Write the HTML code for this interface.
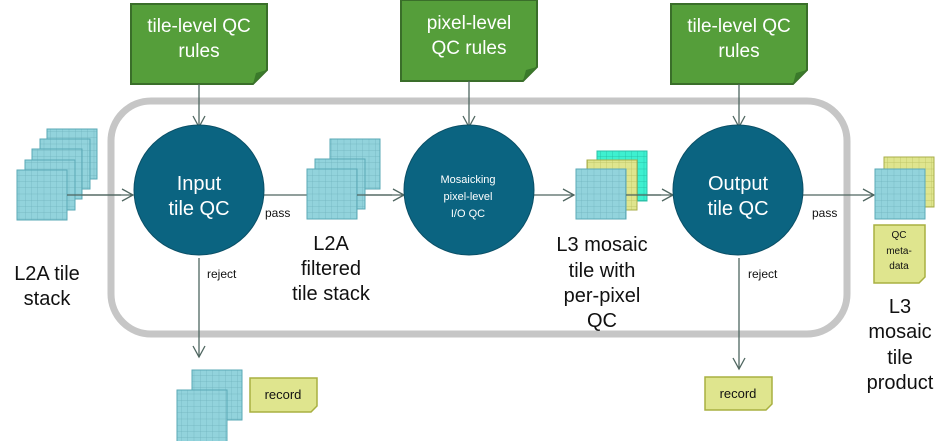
<!DOCTYPE html>
<html><head><meta charset="utf-8"><style>
html,body{margin:0;padding:0;background:#fff;}
svg{display:block;}
text{font-family:"Liberation Sans",sans-serif;}
</style></head><body>
<svg width="947" height="441" viewBox="0 0 947 441" xmlns="http://www.w3.org/2000/svg">
<defs>
<pattern id="gb" width="6.25" height="6.25" patternUnits="userSpaceOnUse"><rect width="6.25" height="6.25" fill="#92d3dc"/><path d="M0 0H6.25M0 0V6.25" stroke="#6fb3be" stroke-width="0.7"/></pattern>
<pattern id="gy" width="6.25" height="6.25" patternUnits="userSpaceOnUse"><rect width="6.25" height="6.25" fill="#dfe58e"/><path d="M0 0H6.25M0 0V6.25" stroke="#b8be5e" stroke-width="0.7"/></pattern>
<pattern id="gc" width="6.25" height="6.25" patternUnits="userSpaceOnUse"><rect width="6.25" height="6.25" fill="#3ef0d0"/><path d="M0 0H6.25M0 0V6.25" stroke="#20b8a0" stroke-width="0.7"/></pattern>
<marker id="ar" markerWidth="14" markerHeight="14" refX="12" refY="7" orient="auto" markerUnits="userSpaceOnUse"><path d="M1 1L12 7L1 13" fill="none" stroke="#4f6660" stroke-width="1.3"/></marker>
</defs>

<rect x="111" y="101" width="736" height="233" rx="40" fill="none" stroke="#c6c6c6" stroke-width="7"/>

<g fill="#559e3a" stroke="#3a6e2a" stroke-width="2">
<path d="M131 4H267V70L253 84H131Z"/>
<path d="M401 0H537V67L523 81H401Z"/>
<path d="M671 4H807V70L793 84H671Z"/>
</g>
<g fill="#3a7a2a"><path d="M253 84L256 73L267 70Z"/><path d="M523 81L526 70L537 67Z"/><path d="M793 84L796 73L807 70Z"/></g>
<g fill="#fff" font-size="19" text-anchor="middle">
<text x="199" y="32">tile-level QC</text><text x="199" y="57">rules</text>
<text x="469" y="29">pixel-level</text><text x="469" y="54">QC rules</text>
<text x="739" y="32">tile-level QC</text><text x="739" y="57">rules</text>
</g>

<g stroke="#4f6660" stroke-width="1.3" fill="none">
<line x1="199" y1="84" x2="199" y2="127" marker-end="url(#ar)"/>
<line x1="469" y1="81" x2="469" y2="127" marker-end="url(#ar)"/>
<line x1="739" y1="84" x2="739" y2="127" marker-end="url(#ar)"/>
<line x1="67" y1="195" x2="133" y2="195" marker-end="url(#ar)"/>
<line x1="263" y1="195" x2="404" y2="195" marker-end="url(#ar)"/>
<line x1="533" y1="195" x2="574" y2="195" marker-end="url(#ar)"/>
<line x1="626" y1="195" x2="673" y2="195" marker-end="url(#ar)"/>
<line x1="803" y1="195" x2="874" y2="195" marker-end="url(#ar)"/>
<line x1="199" y1="258" x2="199" y2="357" marker-end="url(#ar)"/>
<line x1="739" y1="258" x2="739" y2="369" marker-end="url(#ar)"/>
</g>

<g stroke="#5aa8b6" stroke-width="1">
<rect x="47" y="129" width="50" height="50" fill="url(#gb)"/>
<rect x="40" y="139" width="50" height="50" fill="url(#gb)"/>
<rect x="32" y="149" width="50" height="50" fill="url(#gb)"/>
<rect x="25" y="160" width="50" height="50" fill="url(#gb)"/>
<rect x="17" y="170" width="50" height="50" fill="url(#gb)"/>

<rect x="330" y="139" width="50" height="50" fill="url(#gb)"/>
<rect x="315" y="159" width="50" height="50" fill="url(#gb)"/>
<rect x="307" y="169" width="50" height="50" fill="url(#gb)"/>

<rect x="192" y="370" width="50" height="50" fill="url(#gb)"/>
<rect x="177" y="390" width="50" height="52" fill="url(#gb)"/>

<rect x="597" y="151" width="50" height="50" fill="url(#gc)" stroke="#2cc0a8"/>
<rect x="587" y="160" width="50" height="50" fill="url(#gy)" stroke="#a8ae4a"/>
<rect x="576" y="169" width="50" height="50" fill="url(#gb)"/>

<rect x="884" y="157" width="50" height="50" fill="url(#gy)" stroke="#a8ae4a"/>
<rect x="875" y="169" width="50" height="50" fill="url(#gb)"/>
</g>
<line x1="67" y1="195" x2="121" y2="195" stroke="#4f6660" stroke-width="1.3"/>
<line x1="357" y1="195" x2="392" y2="195" stroke="#4f6660" stroke-width="1.3"/>
<line x1="626" y1="195" x2="661" y2="195" stroke="#4f6660" stroke-width="1.3"/>

<g fill="#0b6481" stroke="#0a4f66" stroke-width="1">
<circle cx="199" cy="190" r="65"/>
<circle cx="469" cy="190" r="65"/>
<circle cx="738" cy="190" r="65"/>
</g>
<g fill="#fff" text-anchor="middle">
<text x="199" y="190" font-size="20">Input</text><text x="199" y="215" font-size="20">tile QC</text>
<text x="468" y="183" font-size="11">Mosaicking</text><text x="468" y="200" font-size="11">pixel-level</text><text x="468" y="217" font-size="11">I/O QC</text>
<text x="738" y="190" font-size="20">Output</text><text x="738" y="215" font-size="20">tile QC</text>
</g>

<g fill="#dfe58e" stroke="#a8b040" stroke-width="1.5">
<path d="M250 378H317V406L311 412H250Z"/>
<path d="M705 377H772V404L766 410H705Z"/>
<path d="M874 225H925V277L919 283H874Z"/>
</g>
<g font-size="13" fill="#111" text-anchor="middle">
<text x="283" y="399">record</text>
<text x="738" y="398">record</text>
</g>
<g font-size="10" fill="#111" text-anchor="middle">
<text x="899" y="238">QC</text><text x="899" y="254">meta-</text><text x="899" y="269">data</text>
</g>

<g font-size="12" fill="#111">
<text x="265" y="217">pass</text>
<text x="207" y="278">reject</text>
<text x="812" y="217">pass</text>
<text x="748" y="278">reject</text>
</g>
<g font-size="20" fill="#111" text-anchor="middle">
<text x="47" y="280">L2A tile</text><text x="47" y="305">stack</text>
<text x="331" y="250">L2A</text><text x="331" y="275">filtered</text><text x="331" y="300">tile stack</text>
<text x="602" y="251">L3 mosaic</text><text x="602" y="277">tile with</text><text x="602" y="302">per-pixel</text><text x="602" y="327">QC</text>
<text x="900" y="313">L3</text><text x="900" y="338">mosaic</text><text x="900" y="364">tile</text><text x="900" y="389">product</text>
</g>
</svg>
</body></html>
